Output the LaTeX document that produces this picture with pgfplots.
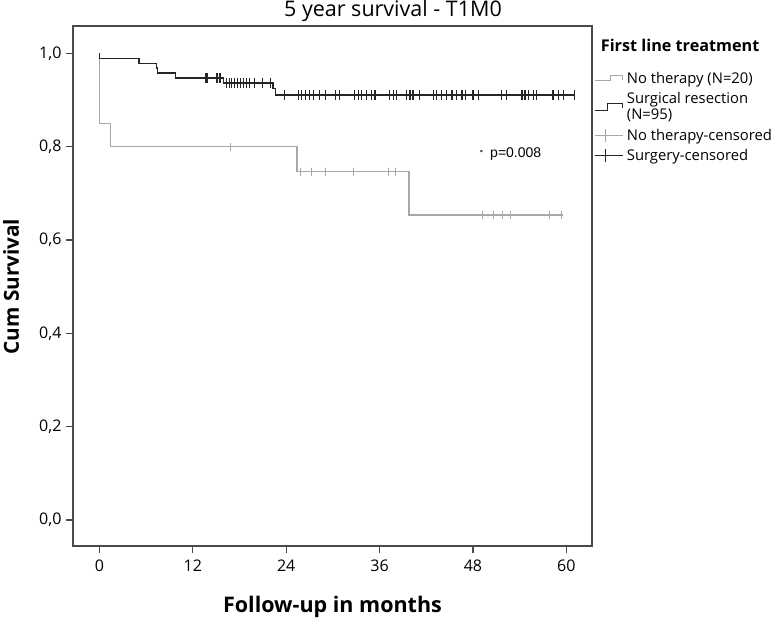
\documentclass[border=0pt]{standalone}
\usepackage{pgfplots}
\pgfplotsset{compat=1.18}
\usepackage{fontspec}
\setmainfont{Open Sans}
\newfontfamily\arialfont{Liberation Sans}
\definecolor{ntgray}{HTML}{A8A8A8}
\definecolor{sgblack}{HTML}{262626}
\definecolor{axgray}{HTML}{4A4A4A}
\begin{document}
\begin{tikzpicture}[x=1pt,y=1pt]
\path[use as bounding box] (0,0) rectangle (774,621);
\node[anchor=base, font=\fontsize{21.5}{24}\selectfont] at (393,604.3) {5 year survival - T1M0};
\node[anchor=base west, font=\bfseries\fontsize{16.2}{18}\selectfont, inner sep=0pt] at (600.7,569.3) {First line treatment};
\begin{axis}[
  at={(73pt,75pt)}, anchor=south west,
  scale only axis, width=519pt, height=520pt,
  xmin=-3.4, xmax=63.3, ymin=-0.0557, ymax=1.0586,
  xtick={0,12,24,36,48,60},
  ytick={0,0.2,0.4,0.6,0.8,1.0},
  yticklabel style={/pgf/number format/use comma, /pgf/number format/fixed, /pgf/number format/fixed zerofill, /pgf/number format/precision=1, xshift=-1pt},
  /pgf/number format/assume math mode=true,
  tick align=outside, tick pos=left,
  major tick length=7pt,
  axis line style={axgray, line width=1.3pt},
  every tick/.style={axgray, line width=1.3pt},
  ticklabel style={font=\fontsize{16}{18}\selectfont, text=black},
  xticklabel style={yshift=-3pt},
  xlabel={Follow-up in months},
  ylabel={Cum Survival},
  xlabel style={font=\bfseries\fontsize{21.5}{24}\selectfont, anchor=center, at={(axis description cs:0.5,-0.117)}},
  ylabel style={font=\bfseries\fontsize{20.7}{24}\selectfont, anchor=center, at={(axis description cs:-0.119,0.499)}},
  legend style={at={(axis description cs:1.004,0.915)}, anchor=north west, draw=none, fill=none,
     font=\fontsize{14.8}{16.6}\selectfont, row sep=4.5pt, column sep=2pt, inner sep=0pt,
     nodes={inner sep=1.5pt, align=left, font=\fontsize{14.8}{16.6}\selectfont}},
  legend cell align=left,
  clip=false,
]
% legend images
\addlegendimage{legend image code/.code={\draw[ntgray, line width=1.1pt] (0pt,-2.5pt) -- (16pt,-2.5pt) -- (16pt,2.5pt) -- (28pt,2.5pt) -- (28pt,-1.5pt);}}
\addlegendentry{No therapy (N=20)}
\addlegendimage{legend image code/.code={\draw[sgblack, line width=1.1pt] (0pt,-3.5pt) -- (13pt,-3.5pt) -- (13pt,3.2pt) -- (28pt,3.2pt) -- (28pt,-1.5pt);}}
\addlegendentry{Surgical resection\\(N=95)}
\addlegendimage{legend image code/.code={\draw[ntgray, line width=0.9pt] (0pt,0pt) -- (28pt,0pt); \draw[ntgray, line width=0.9pt] (11pt,-6.5pt) -- (11pt,6.5pt);}}
\addlegendentry{No therapy-censored}
\addlegendimage{legend image code/.code={\draw[sgblack, line width=1.1pt] (0pt,0pt) -- (28pt,0pt); \draw[sgblack, line width=1.1pt] (11pt,-6.5pt) -- (11pt,6.5pt);}}
\addlegendentry{Surgery-censored}

% No therapy curve
\addplot[const plot, ntgray, line width=1.3pt, forget plot] coordinates {
(0,1.0) (0,0.85) (1.45,0.80) (25.4,0.7467) (39.8,0.6533) (59.6,0.6533)};
\addplot[only marks, mark=|, mark size=4pt, mark options={ntgray, line width=1.0pt}, forget plot] coordinates {
(16.9,0.80)
(25.9,0.7467) (27.3,0.7467) (29.0,0.7467) (32.7,0.7467) (37.1,0.7467) (38.0,0.7467)
(49.2,0.6533) (50.6,0.6533) (51.8,0.6533) (52.8,0.6533) (57.8,0.6533) (59.4,0.6533)};

% Surgery curve
\addplot[const plot, sgblack, line width=1.3pt, forget plot] coordinates {
(0,1.0) (0,0.9895) (5.1,0.9789) (7.3,0.9684) (7.5,0.9579) (9.8,0.9474) (15.9,0.9364) (22.3,0.924) (22.6,0.911) (61.1,0.911)};
\addplot[only marks, mark=|, mark size=5pt, mark options={sgblack, line width=1.2pt}, forget plot] coordinates {
(13.7,0.9474) (13.9,0.9474) (15.1,0.9474) (15.5,0.9474)
(16.3,0.9364) (16.7,0.9364) (17.0,0.9364) (17.4,0.9364) (17.7,0.9364) (18.1,0.9364) (18.5,0.9364) (18.9,0.9364) (19.3,0.9364) (19.9,0.9364) (21.0,0.9364) (22.0,0.9364)
(23.8,0.911) (25.6,0.911) (26.0,0.911) (26.5,0.911) (27.0,0.911) (27.5,0.911) (28.3,0.911) (29.0,0.911) (30.3,0.911) (30.8,0.911)
(32.8,0.911) (33.3,0.911) (33.7,0.911) (34.3,0.911) (35.0,0.911) (35.4,0.911) (37.3,0.911) (37.8,0.911) (38.2,0.911)
(39.5,0.911) (39.9,0.911) (40.3,0.911) (41.1,0.911) (42.9,0.911) (43.3,0.911) (44.0,0.911) (44.6,0.911) (45.3,0.911)
(45.9,0.911) (46.6,0.911) (47.0,0.911) (48.0,0.911) (48.7,0.911) (51.7,0.911) (52.3,0.911) (54.3,0.911) (54.7,0.911)
(55.1,0.911) (55.8,0.911) (56.2,0.911) (58.3,0.911) (59.0,0.911) (59.6,0.911) (61.1,0.911)};

% frame top and right
\draw[axgray, line width=1.3pt] (rel axis cs:0,1) -- (rel axis cs:1,1) -- (rel axis cs:1,0);

\node[font=\arialfont\fontsize{14}{16}\selectfont, anchor=center] at (axis cs:53.5,0.7836) {p=0.008};
\node[font=\arialfont\fontsize{9}{10}\selectfont, text=axgray, anchor=center] at (axis cs:49.1,0.787) {\textbullet};
\end{axis}
\end{tikzpicture}
\end{document}
